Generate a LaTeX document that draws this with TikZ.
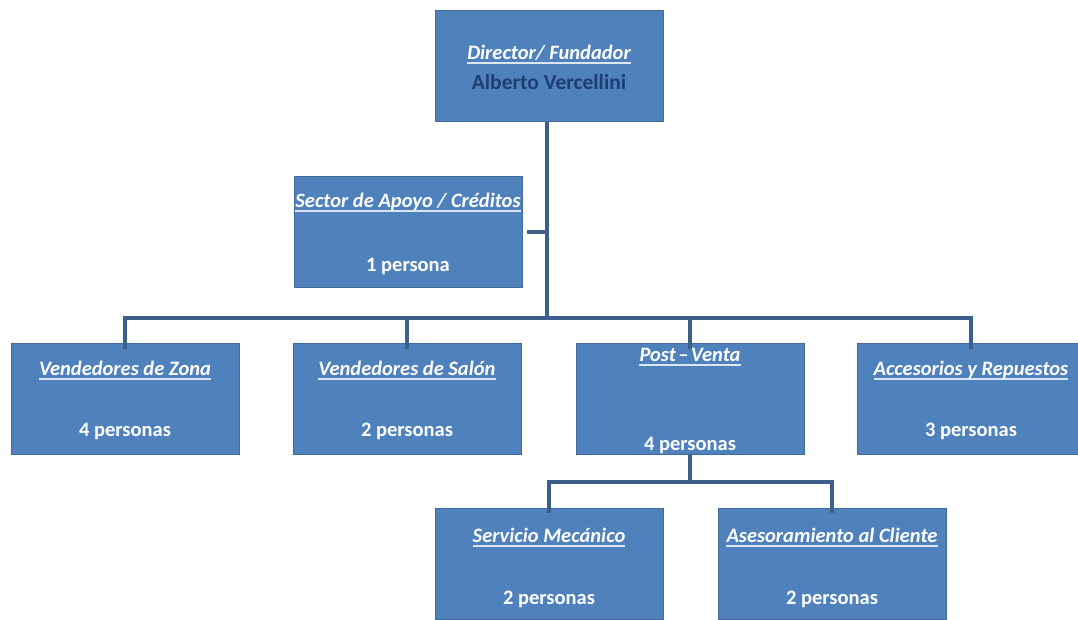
\documentclass[tikz,border=0pt]{standalone}
\usepackage{fontspec}
\setmainfont{Carlito}
\definecolor{boxfill}{HTML}{4F81BD}
\definecolor{boxedge}{HTML}{41699A}
\definecolor{linkcol}{HTML}{3C5F8C}
\definecolor{namecol}{HTML}{1F3F73}
\definecolor{ulcol}{HTML}{DCE6F2}
\tikzset{
  unit/.style={draw=boxedge, line width=1pt, fill=boxfill,
    minimum width=228pt, minimum height=111pt, inner sep=0pt},
  headtxt/.style={text=white, font=\fontsize{20.5}{24}\selectfont\bfseries\itshape,
    inner sep=0pt, anchor=base},
  counttxt/.style={text=white, font=\fontsize{20.5}{24}\selectfont\bfseries,
    inner sep=0pt, anchor=base},
  nametxt/.style={text=namecol, font=\fontsize{21.5}{24}\selectfont\bfseries,
    inner sep=0pt, anchor=base},
  link/.style={draw=linkcol, line width=4pt}
}
\newcommand{\headline}[3]{%
  \node[headtxt] (#1) at (#2) {#3};
  \draw[ulcol, line width=1.2pt] ([yshift=-4pt]#1.base west) -- ([yshift=-4pt]#1.base east);}
\begin{document}
\begin{tikzpicture}[x=1pt,y=-1pt]
\useasboundingbox[fill=white] (0,0) rectangle (1078,619);

% boxes
\node[unit] (dir) at (549,66) {};
\node[unit] (sec) at (408,232) {};
\node[unit] (vz)  at (125,399) {};
\node[unit] (vs)  at (407,399) {};
\node[unit] (pv)  at (690,399) {};
\node[unit] (ar)  at (971,399) {};
\node[unit] (sm)  at (549,564) {};
\node[unit] (ac)  at (832,564) {};

% texts
\headline{tdir}{549,59}{Director/ Fundador}
\node[nametxt] (ndir) at (549,89) {Alberto Vercellini};
\headline{tsec}{408,207}{Sector de Apoyo / Créditos}
\node[counttxt] (csec) at (408,271) {1 persona};
\headline{tvz}{125,375}{Vendedores de Zona}
\node[counttxt] (cvz) at (125,436) {4 personas};
\headline{tvs}{407,375}{Vendedores de Salón}
\node[counttxt] (cvs) at (407,436) {2 personas};
\headline{tpv}{690,361}{Post\hspace{0.12em}–\hspace{0.12em}Venta}
\node[counttxt] (cpv) at (690,450) {4 personas};
\headline{tar}{971,375}{Accesorios y Repuestos}
\node[counttxt] (car) at (971,436) {3 personas};
\headline{tsm}{549,542}{Servicio Mecánico}
\node[counttxt] (csm) at (549,604) {2 personas};
\headline{tac}{832,542}{Asesoramiento al Cliente}
\node[counttxt] (cac) at (832,604) {2 personas};

% connectors
\coordinate (bus) at (547,318);
\coordinate (subbus) at (690,482);
\draw[link] (dir.south -| bus) -- (bus);
\draw[link] ([xshift=4pt]sec.east) -- (sec.east -| bus);
\draw[link] ([xshift=-2pt]vz.north |- bus) -- ([xshift=2pt]ar.north |- bus);
\foreach \n in {vz,vs,pv,ar}
  \draw[link] (\n.north |- bus) -- ([yshift=-6pt]\n.north);
\draw[link] (pv.south) -- (subbus);
\draw[link] ([xshift=-2pt]sm.north |- subbus) -- ([xshift=2pt]ac.north |- subbus);
\foreach \n in {sm,ac}
  \draw[link] (\n.north |- subbus) -- ([yshift=-5pt]\n.north);
\end{tikzpicture}
\end{document}
